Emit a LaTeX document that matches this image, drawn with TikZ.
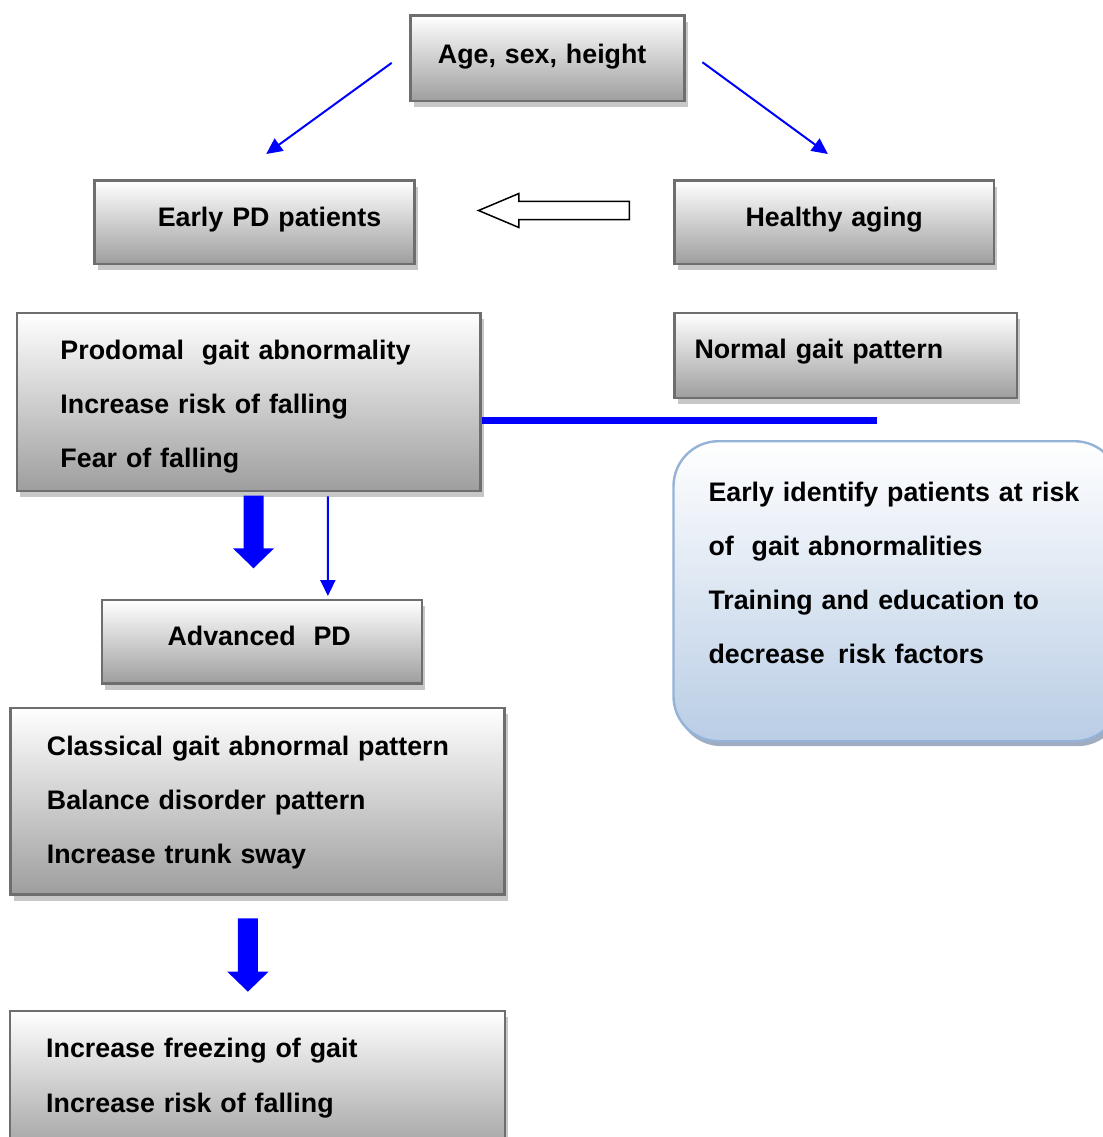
\documentclass[tikz,border=0pt]{standalone}
\usepackage{fontspec}
\setmainfont{Liberation Sans}
\usetikzlibrary{positioning, arrows.meta, shadows, shapes.arrows}
\definecolor{boxblue}{RGB}{185,205,229}
\definecolor{boxedge}{RGB}{149,179,215}
\definecolor{boxshade}{RGB}{160,172,192}
\tikzset{greybox/.style={draw=black!57, line width=1.2pt, top color=white, bottom color=black!38,
                         anchor=north west, inner ysep=0pt, align=left,
                         drop shadow={shadow xshift=1.5pt, shadow yshift=-3pt, fill=black!22, opacity=1}},
         bluebox/.style={rounded corners=22.5pt, draw=boxedge, line width=1.2pt, top color=white, bottom color=boxblue,
                         anchor=north west, inner ysep=0pt, align=left,
                         drop shadow={shadow xshift=1.5pt, shadow yshift=-2.5pt, fill=boxshade, opacity=1}},
         thinarrow/.style={blue, line width=1pt, -{Triangle[length=8pt,width=7.5pt]}},
         blockarrow/.style={blue, line width=10pt, -{Triangle[length=10pt,width=20pt]}},
         blueline/.style={blue, line width=3.8pt},
         hollowarrow/.style={single arrow, draw=black, line width=0.75pt, fill=white, shape border rotate=180,
                         minimum height=75.35pt, minimum width=0pt, inner sep=4.175pt,
                         single arrow head extend=3.925pt, single arrow tip angle=45.7},
        }

\begin{document}
\begin{tikzpicture}[x=0.5pt, y=-0.5pt, font=\fontsize{13.4}{27.1}\selectfont\bfseries]
        \useasboundingbox (0,0) rectangle (1103,1137);
        \clip (0,0) rectangle (1103,1137);

        \node[greybox, text width=109.6pt, inner xsep=13.7pt, text height=24pt, text depth=18.85pt](age)at(409.3,14.3){Age, sex, height};
        \node[greybox, align=right, text width=126.7pt, inner xsep=16.65pt, text height=22.85pt, text depth=18.85pt](early)at(93.3,179.3){Early PD patients};
        \node[greybox, align=center, text width=159.7pt, inner xsep=0pt, text height=22.85pt, text depth=18.85pt](healthy)at(673.3,179.3){Healthy aging};
        \node[greybox, text width=151.35pt, inner xsep=10pt, text height=22.8pt, text depth=19.7pt](normal)at(673.3,311.7){Normal gait pattern};
        \node[greybox, text width=188.2pt, inner xsep=21.8pt, text height=23.3pt, text depth=65.85pt](prod)at(15.7,311.7){Prodomal~ gait abnormality\\Increase risk of falling\\Fear of falling};
        \node[greybox, text width=94.6pt, inner xsep=32.7pt, text height=22.5pt, text depth=19.15pt](adv)at(101,599){Advanced~ PD};
        \node[greybox, text width=210.6pt, inner xsep=18.2pt, text height=23.65pt, text depth=69.65pt](cls)at(9.3,706.7){Classical gait abnormal pattern\\Balance disorder pattern\\Increase trunk sway};
        \node[greybox, text width=211.5pt, inner xsep=18pt, text height=23.35pt, text depth=50pt](fin)at(9,1010){Increase freezing of gait\\Increase risk of falling};
        \node[bluebox, text width=188pt, inner xsep=17.5pt, text height=30pt, text depth=120pt](advice)at(672.3,440){Early identify patients at risk\\of~ gait abnormalities\\Training and education to\\decrease\,\ risk factors};
        \node[hollowarrow](toearly)at(564.7,210.5){};
        \coordinate(lineend)at(876.7,420.5);

        \draw[thinarrow]([shift={(-17.6,4.5)}]age.west)--([shift={(11.7,-25.3)}]early.north);
        \draw[thinarrow]([shift={(16.7,3.85)}]age.east)--([shift={(-6.3,-25.3)}]healthy.north);
        \draw[blueline](lineend -| prod.east)--(lineend);
        \draw[blockarrow]([shift={(4.8,3.3)}]prod.south)--([shift={(-8.7,-30.7)}]adv.north);
        \draw[thinarrow]([shift={(79.2,4)}]prod.south)--([shift={(65.7,-3)}]adv.north);
        \draw[blockarrow]([shift={(-9.6,22.7)}]cls.south)--([shift={(-9.8,-18.3)}]fin.north);
    \end{tikzpicture}
\end{document}
